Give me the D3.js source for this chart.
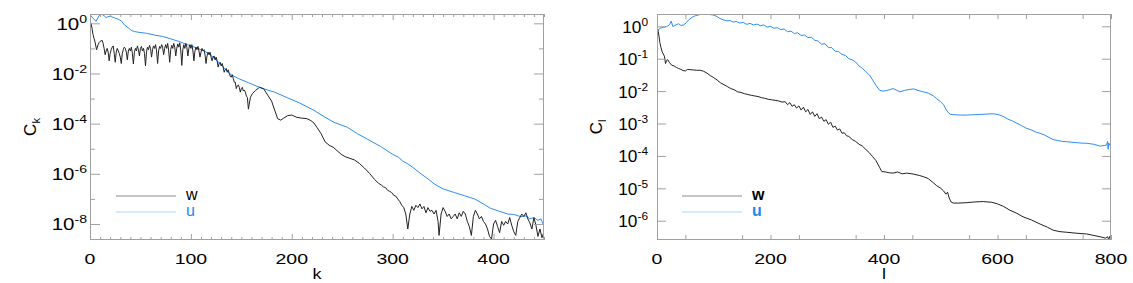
<!DOCTYPE html>
<html>
<head>
<meta charset="utf-8">
<script src="https://cdn.jsdelivr.net/npm/d3@7"></script>
<style>
  body { margin: 0; background: #fff; }
  svg { display: block; }
  text { font-family: "Liberation Sans", Arial, Helvetica, sans-serif; fill: #000; }
</style>
</head>
<body>
<svg id="chart" width="1133" height="283"></svg>
<script>
// ---- left panel: spectrum vs k ----
const leftUk = [0, 3, 6, 9, 11, 14, 16, 19, 21, 24, 28, 31, 34, 38, 41, 44, 48, 56, 64, 72, 80, 88, 97, 105, 114, 122, 130, 137, 140, 147, 157, 170, 183, 197, 208, 222, 232, 242, 255, 265, 275, 288, 300, 306, 310, 315, 320, 328, 335, 341, 350, 361, 371, 381, 390, 397, 405, 414, 420, 427, 432, 436, 440, 444, 447, 449];
const leftUc = [2.2, 1.6, 1.2, 2.0, 2.4, 2.0, 1.7, 1.9, 1.85, 1.66, 1.45, 1.26, 0.87, 0.66, 0.52, 0.47, 0.44, 0.40, 0.34, 0.30, 0.24, 0.19, 0.138, 0.107, 0.076, 0.045, 0.022, 0.0112, 0.0089, 0.0063, 0.0043, 0.0026, 0.0018, 0.00102, 6.6e-4, 3.4e-4, 1.9e-4, 1.12e-4, 7.2e-5, 4.0e-5, 2.4e-5, 1.23e-5, 6.0e-6, 4.5e-6, 3.2e-6, 2.5e-6, 1.8e-6, 1.0e-6, 6.3e-7, 4.0e-7, 2.5e-7, 1.8e-7, 1.35e-7, 1.0e-7, 6.3e-8, 4.2e-8, 3.3e-8, 2.5e-8, 2.4e-8, 1.95e-8, 2.1e-8, 1.6e-8, 1.8e-8, 1.4e-8, 1.6e-8, 1.0e-8];

const leftWk = [0, 1, 2, 3, 4, 5, 6.5,
  8, 9, 10, 11, 12, 13, 14, 15, 16, 17, 18, 19, 20, 21, 22, 23, 24, 25, 26, 27, 28, 29, 30, 31, 32, 33, 34, 35, 36, 37, 38, 39, 40,
  41, 42, 43, 44, 45, 46, 47, 48, 49, 50, 51, 52, 53, 54, 55, 56, 57, 58, 59, 60, 61, 62, 63, 64, 65, 66, 67, 68, 69, 70,
  71, 72, 73, 74, 75, 76, 77, 78, 79, 80, 81, 82, 83, 84, 85, 86, 87, 88, 89, 90, 91, 92, 93, 94, 95, 96, 97, 98, 99, 100,
  101, 102, 103, 104, 105, 106, 107, 108, 109, 110, 111, 112, 113, 114, 115, 116, 117, 118, 119, 120, 121, 122, 123, 124, 125,
  126, 127, 128, 129, 130, 131, 132, 133, 134, 135, 136, 137, 138, 139, 140, 141, 142, 143, 144, 145, 146, 147, 148, 149, 150,
  151, 152, 153, 154, 155, 156, 157, 159, 161, 164, 168, 172, 176, 180, 183, 186, 189, 192, 196, 200, 205, 210, 215, 219, 222,
  225, 229, 233, 237, 241, 245, 249, 253, 257, 262, 267, 272, 277, 282, 286, 289, 291, 293, 295, 297, 299, 301, 303, 305, 307,
  309, 311, 313, 315, 317, 319, 321, 323, 325, 327, 329, 331, 333, 335, 337, 339, 341, 343, 345, 346, 348, 350, 352, 354, 356,
  358, 360, 362, 364, 366, 368, 370, 372, 374, 376, 378, 380, 382, 384, 386, 388, 390, 392, 394, 396, 398, 400, 402, 404, 406,
  408, 410, 412, 414, 416, 418, 420, 422, 424, 426, 428, 430, 432, 434, 436, 438, 440, 442, 444, 446, 448, 450];
const leftWc = [0.63, 1.0, 0.63, 0.35, 0.25, 0.18, 0.089,
  0.14, 0.17, 0.19, 0.2, 0.21, 0.16, 0.1, 0.056, 0.079, 0.1, 0.071, 0.032, 0.063, 0.089, 0.112, 0.126, 0.063, 0.028, 0.071, 0.1, 0.079, 0.063, 0.045, 0.025, 0.063, 0.089, 0.112, 0.1, 0.071, 0.035, 0.079, 0.1, 0.079,
  0.112, 0.063, 0.024, 0.071, 0.1, 0.079, 0.126, 0.089, 0.05, 0.1, 0.12, 0.079, 0.1, 0.063, 0.02, 0.071, 0.112, 0.089, 0.132, 0.1, 0.045, 0.089, 0.126, 0.1, 0.141, 0.079, 0.025, 0.079, 0.12, 0.1,
  0.141, 0.112, 0.056, 0.1, 0.141, 0.1, 0.158, 0.079, 0.028, 0.089, 0.132, 0.1, 0.158, 0.112, 0.05, 0.1, 0.151, 0.112, 0.166, 0.079, 0.021, 0.089, 0.141, 0.1, 0.158, 0.112, 0.05, 0.1, 0.141, 0.1,
  0.141, 0.079, 0.032, 0.079, 0.112, 0.089, 0.12, 0.079, 0.045, 0.071, 0.1, 0.079, 0.089, 0.056, 0.025, 0.05, 0.071, 0.056, 0.071, 0.045, 0.032, 0.045, 0.05, 0.035, 0.045,
  0.032, 0.018, 0.025, 0.028, 0.02, 0.025, 0.018, 0.0112, 0.0141, 0.0158, 0.0112, 0.0141, 0.01, 0.0079, 0.0071, 0.0089, 0.0063, 0.0045, 0.0045, 0.0025, 0.0032, 0.0035, 0.0028, 0.0018, 0.0025,
  0.0028, 0.002, 0.0022, 0.0018, 0.00126, 0.0011, 3.8e-4, 0.00112, 0.00158, 0.0021, 0.0028, 0.0025, 0.0014, 7.9e-4, 3.5e-4, 1.58e-4, 1.38e-4, 1.66e-4, 2.1e-4, 2.2e-4, 1.78e-4, 1.66e-4, 1.58e-4, 1.32e-4, 1.05e-4,
  7.1e-5, 4.0e-5, 1.9e-5, 1.38e-5, 1.15e-5, 8.3e-6, 6.0e-6, 4.8e-6, 4.2e-6, 3.6e-6, 2.6e-6, 1.7e-6, 1.05e-6, 6.0e-7, 4.2e-7, 3.5e-7, 3.0e-7, 2.8e-7, 2.2e-7, 2.0e-7, 1.8e-7, 1.4e-7, 1.3e-7, 1.0e-7, 7.9e-8,
  5.6e-8, 4.5e-8, 2.5e-8, 6.3e-9, 2.5e-8, 5.0e-8, 3.5e-8, 5.6e-8, 4.5e-8, 6.3e-8, 4.0e-8, 5.0e-8, 2.8e-8, 4.5e-8, 3.2e-8, 3.5e-8, 2.5e-8, 3.5e-8, 1.26e-8, 3.5e-9, 2.5e-8, 4.5e-8, 3.2e-8, 2.0e-8, 2.5e-8,
  1.6e-8, 2.0e-8, 2.5e-8, 1.6e-8, 2.8e-8, 2.0e-8, 3.2e-8, 2.5e-8, 1.26e-8, 7.9e-9, 3.5e-9, 2.0e-8, 3.5e-8, 2.5e-8, 1.6e-8, 2.0e-8, 1.26e-8, 1.0e-8, 6.3e-9, 3.2e-9, 2.5e-9, 1.0e-8, 1.4e-8, 7.9e-9, 4.5e-9,
  1.26e-8, 8.9e-9, 1.26e-8, 1.0e-8, 1.8e-8, 8.9e-9, 5.0e-9, 3.5e-9, 1.26e-8, 1.8e-8, 2.5e-8, 2.0e-8, 2.8e-8, 1.6e-8, 1.1e-8, 6.3e-9, 1.8e-8, 8.9e-9, 3.2e-9, 6.3e-9, 2.8e-9, 5.0e-9];

// ---- right panel: spectrum vs l ----
const rightUl = [1, 5, 12, 17, 22, 25, 28, 33, 38, 42, 47, 52, 56, 62, 68, 75, 82, 90, 99, 106, 111, 117, 123, 129, 134, 140, 146, 152, 158, 164, 170, 176, 182, 188, 194, 200, 206, 212, 218, 224, 230, 236, 242, 248, 254, 260, 266, 272, 278, 284, 290, 296, 302, 308, 314, 320, 326, 332, 338, 344, 350, 356, 362, 368, 374, 380, 386, 392, 398, 405, 411, 416, 422, 428, 436, 444, 452, 460, 469, 478, 487, 493, 499, 505, 510, 514, 518, 525, 535, 545, 556, 569, 580, 592, 601, 610, 618, 626, 634, 643, 651, 660, 668, 675, 683, 691, 698, 706, 714, 722, 735, 747, 757, 769, 781, 788, 792, 794, 795, 796, 798, 800];
const rightUc = [0.71, 0.87, 0.93, 0.98, 1.12, 1.45, 0.98, 1.1, 1.2, 1.07, 1.1, 1.32, 1.58, 1.9, 2.14, 2.29, 2.4, 2.34, 2.24, 2.0, 1.74, 1.58, 1.48, 1.51, 1.35, 1.41, 1.26, 1.32, 1.15, 1.23, 1.1, 1.17, 1.05, 1.1, 0.95, 1.0, 0.87, 0.91, 0.79, 0.83, 0.68, 0.71, 0.6, 0.63, 0.52, 0.54, 0.45, 0.46, 0.37, 0.35, 0.28, 0.29, 0.22, 0.22, 0.17, 0.166, 0.135, 0.126, 0.1, 0.093, 0.079, 0.06, 0.05, 0.04, 0.032, 0.022, 0.015, 0.0107, 0.01, 0.0105, 0.0112, 0.012, 0.0107, 0.0095, 0.0105, 0.0112, 0.0117, 0.0105, 0.0095, 0.0087, 0.0071, 0.0058, 0.0048, 0.0038, 0.0026, 0.0021, 0.0019, 0.00186, 0.00182, 0.00182, 0.00186, 0.0019, 0.00195, 0.002, 0.0019, 0.00166, 0.00138, 0.0012, 0.00102, 8.5e-4, 7.1e-4, 6.3e-4, 5.4e-4, 5.0e-4, 4.4e-4, 3.7e-4, 3.2e-4, 3.0e-4, 2.8e-4, 2.75e-4, 2.6e-4, 2.5e-4, 2.45e-4, 2.3e-4, 2.0e-4, 2.1e-4, 2.15e-4, 2.8e-4, 1.6e-4, 2.5e-4, 2.1e-4, 2.15e-4];

const rightWl = [0, 2, 3.5, 5, 7, 9, 11, 13, 15, 17, 19, 22, 26, 30, 34, 38, 42, 46, 50, 54, 58, 64, 70, 76, 82, 88, 94, 100, 106, 112, 118, 124, 130, 136, 142, 148, 154, 160, 166, 172, 178, 184, 190, 196, 202, 208, 214, 220, 226, 230, 234, 238, 242, 246, 250, 254, 258, 262, 266, 270, 274, 278, 282, 286, 290, 294, 298, 302, 306, 310, 314, 318, 322, 326, 330, 334, 338, 344, 350, 356, 362, 368, 374, 380, 386, 392, 396, 402, 410, 416, 424, 432, 440, 452, 462, 469, 478, 487, 493, 500, 505, 509, 512, 515, 518, 522, 530, 545, 560, 575, 590, 600, 610, 622, 634, 645, 660, 675, 688, 698, 710, 722, 740, 757, 770, 781, 790, 794, 796, 798, 800];
const rightWc = [1.0, 0.71, 0.5, 0.316, 0.224, 0.166, 0.141, 0.12, 0.071, 0.089, 0.093, 0.076, 0.063, 0.06, 0.054, 0.05, 0.047, 0.043, 0.042, 0.047, 0.046, 0.045, 0.044, 0.044, 0.041, 0.036, 0.03, 0.026, 0.022, 0.018, 0.0158, 0.0138, 0.012, 0.011, 0.0095, 0.0091, 0.0083, 0.0079, 0.0074, 0.0071, 0.0068, 0.0063, 0.006, 0.0056, 0.0054, 0.0052, 0.005, 0.0046, 0.0047, 0.0038, 0.0044, 0.0034, 0.0038, 0.003, 0.0035, 0.0026, 0.0032, 0.0023, 0.0027, 0.0019, 0.0023, 0.00166, 0.002, 0.00141, 0.00158, 0.00117, 0.00132, 9.5e-4, 0.0011, 7.6e-4, 8.3e-4, 6.3e-4, 6.8e-4, 5.0e-4, 5.2e-4, 4.2e-4, 4.0e-4, 3.2e-4, 2.8e-4, 2.3e-4, 2.0e-4, 1.58e-4, 1.26e-4, 9.5e-5, 7.1e-5, 4.5e-5, 3.3e-5, 3.2e-5, 3.0e-5, 2.95e-5, 3.2e-5, 2.8e-5, 2.95e-5, 2.75e-5, 2.5e-5, 2.3e-5, 2.0e-5, 1.48e-5, 1.2e-5, 1.0e-5, 8.3e-6, 6.6e-6, 7.6e-6, 5.0e-6, 3.8e-6, 3.5e-6, 3.5e-6, 3.6e-6, 3.8e-6, 3.9e-6, 3.7e-6, 3.3e-6, 2.8e-6, 2.1e-6, 1.7e-6, 1.32e-6, 1.05e-6, 7.9e-7, 6.3e-7, 5.1e-7, 4.6e-7, 4.4e-7, 4.1e-7, 3.9e-7, 3.5e-7, 3.2e-7, 2.9e-7, 3.2e-7, 2.6e-7, 3.3e-7, 2.8e-7];

// tick labels
const leftXTicks = [0, 100, 200, 300, 400];
const leftYExp = [0, -2, -4, -6, -8];
const leftYMinorExp = [-1, -3, -5, -7];
const rightXTicks = [0, 200, 400, 600, 800];
const rightYExp = [0, -1, -2, -3, -4, -5, -6];

const seriesNames = ["w", "u"];
const seriesColors = ["#222222", "#2b8ef5"];
const legendLineColors = ["#8c8c8c", "#a9d4ff"];
const legendTextColors = ["#000000", "#1e88f0"];

const svg = d3.select("#chart");
const axisColor = "#a0a0a0";
const plotTop = 14, plotBottom = 240;

function panel(o) {
  const x = d3.scaleLinear().domain(o.xDomain).range([o.left, o.right]);
  const y = d3.scaleLog().domain(o.yDomain).range([plotBottom, plotTop]);
  const g = svg.append("g");

  const clipId = "clip-" + o.id;
  svg.append("clipPath").attr("id", clipId)
    .append("rect").attr("x", o.left).attr("y", plotTop)
    .attr("width", o.right - o.left).attr("height", plotBottom - plotTop);

  const line = d3.line().x(d => x(d[0])).y(d => y(d[1]));
  const data = [d3.zip(o.wx, o.wy), d3.zip(o.ux, o.uy)];
  // u drawn first, w on top
  [1, 0].forEach(i => {
    g.append("path").datum(data[i])
      .attr("d", line)
      .attr("fill", "none")
      .attr("stroke", seriesColors[i])
      .attr("stroke-width", 1)
      .attr("stroke-linejoin", "round")
      .attr("clip-path", `url(#${clipId})`);
  });

  const style = sel => {
    sel.select(".domain").remove();
    sel.selectAll("line").attr("stroke", axisColor).attr("stroke-width", 1);
  };

  // x ticks bottom / top
  g.append("g").attr("transform", `translate(0,${plotBottom})`)
    .call(d3.axisBottom(x).tickValues(o.xMinor).tickSize(-o.xMinorLen).tickFormat("")).call(style);
  g.append("g").attr("transform", `translate(0,${plotBottom})`)
    .call(d3.axisBottom(x).tickValues(o.xTicks).tickSize(-o.xMajorLen).tickFormat("")).call(style);
  g.append("g").attr("transform", `translate(0,${plotTop})`)
    .call(d3.axisTop(x).tickValues(o.xMinor).tickSize(-o.xMinorLen).tickFormat("")).call(style);
  g.append("g").attr("transform", `translate(0,${plotTop})`)
    .call(d3.axisTop(x).tickValues(o.xTicks).tickSize(-o.xMajorLen).tickFormat("")).call(style);

  // y ticks left / right
  const yMaj = o.yExp.map(e => Math.pow(10, e));
  const yMin = o.yMinorExp.map(e => Math.pow(10, e));
  g.append("g").attr("transform", `translate(${o.left},0)`)
    .call(d3.axisLeft(y).tickValues(yMaj).tickSize(-o.yMajorLen).tickFormat("")).call(style);
  g.append("g").attr("transform", `translate(${o.right},0)`)
    .call(d3.axisRight(y).tickValues(yMaj).tickSize(-o.yMajorLen).tickFormat("")).call(style);
  if (yMin.length) {
    g.append("g").attr("transform", `translate(${o.left},0)`)
      .call(d3.axisLeft(y).tickValues(yMin).tickSize(-o.yMinorLen).tickFormat("")).call(style);
    g.append("g").attr("transform", `translate(${o.right},0)`)
      .call(d3.axisRight(y).tickValues(yMin).tickSize(-o.yMinorLen).tickFormat("")).call(style);
  }

  // frame
  g.append("rect").attr("x", o.left + 0.5).attr("y", plotTop + 0.5)
    .attr("width", o.right - o.left - 1).attr("height", plotBottom - plotTop - 1)
    .attr("fill", "none").attr("stroke", axisColor).attr("stroke-width", 1);

  // x tick labels
  g.selectAll(".xlab").data(o.xTicks).join("text")
    .attr("transform", d => `translate(${x(d)},264) scale(1.3,1)`)
    .attr("text-anchor", "middle").attr("font-size", 15)
    .text(d => d);

  // y tick labels 10^e
  o.yExp.forEach(e => {
    const t = g.append("text")
      .attr("transform", `translate(${o.left - o.yLabGap},${y(Math.pow(10, e)) + 6.5}) scale(${o.yLabScale},1)`)
      .attr("text-anchor", "end").attr("font-size", 16);
    t.append("tspan").text("10");
    t.append("tspan").attr("font-size", 11).attr("dy", -7).text(e);
  });

  // axis titles
  g.append("text")
    .attr("transform", `translate(${(o.left + o.right) / 2},279) scale(1.2,1)`)
    .attr("text-anchor", "middle").attr("font-size", 15).text(o.xTitle);
  const yt = g.append("text")
    .attr("transform", `translate(${o.yTitleX},${(plotTop + plotBottom) / 2}) rotate(-90)`)
    .attr("text-anchor", "middle").attr("font-size", 17);
  yt.append("tspan").text("C");
  yt.append("tspan").attr("font-size", 11).attr("dy", 4).text(o.ySub);

  // legend
  seriesNames.forEach((name, i) => {
    const ly = 196 + i * 16;
    g.append("line").attr("x1", o.legX).attr("x2", o.legX + 60)
      .attr("y1", ly).attr("y2", ly)
      .attr("stroke", legendLineColors[i]).attr("stroke-width", 1);
    g.append("text").attr("x", o.legX + 70).attr("y", ly + 4)
      .attr("font-size", 16).attr("font-weight", o.legBold ? "bold" : "normal")
      .style("fill", legendTextColors[i])
      .text(name);
  });
}

panel({
  id: "k", left: 90, right: 544,
  xDomain: [0, 450], yDomain: [2.3e-9, 2.35],
  ux: leftUk, uy: leftUc, wx: leftWk, wy: leftWc,
  xTicks: leftXTicks, xMinor: d3.range(0, 451, 10).filter(v => v % 100 !== 0),
  xMajorLen: 6, xMinorLen: 3,
  yExp: leftYExp, yMinorExp: leftYMinorExp, yMajorLen: 10, yMinorLen: 5,
  yLabGap: 3, yLabScale: 1.28,
  xTitle: "k", ySub: "k", yTitleX: 36,
  legX: 116, legBold: false
});

panel({
  id: "l", left: 657, right: 1111,
  xDomain: [0, 800], yDomain: [2.54e-7, 2.4],
  ux: rightUl, uy: rightUc, wx: rightWl, wy: rightWc,
  xTicks: rightXTicks, xMinor: d3.range(50, 800, 100),
  xMajorLen: 5, xMinorLen: 5,
  yExp: rightYExp, yMinorExp: [], yMajorLen: 9, yMinorLen: 0,
  yLabGap: 9, yLabScale: 1.08,
  xTitle: "l", ySub: "l", yTitleX: 602,
  legX: 682, legBold: true
});
</script>
</body>
</html>
